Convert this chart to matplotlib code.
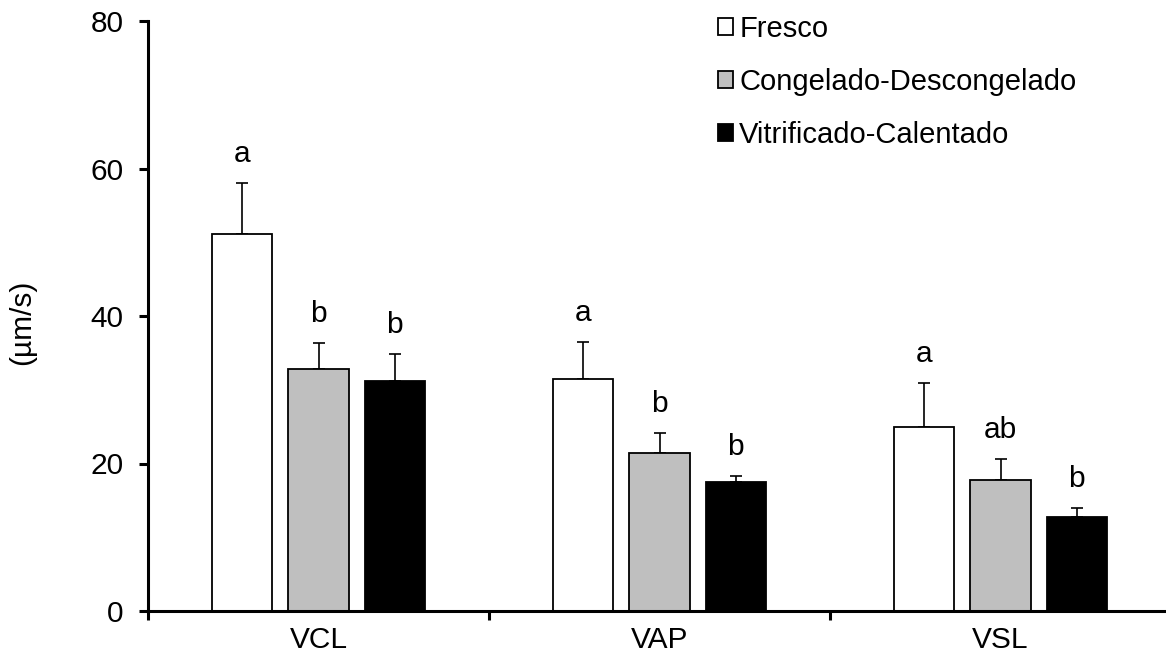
import numpy as np
import matplotlib
matplotlib.use("Agg")
import matplotlib.pyplot as plt

plt.rcParams['font.family'] = ['Liberation Sans', 'DejaVu Sans']

# Data
categories = ['VCL', 'VAP', 'VSL']
series = ['Fresco', 'Congelado-Descongelado', 'Vitrificado-Calentado']
fresco = [51.1, 31.5, 24.9]
fresco_err = [7.0, 5.0, 6.0]
congelado = [32.8, 21.4, 17.7]
congelado_err = [3.5, 2.8, 2.9]
vitrificado = [31.2, 17.5, 12.8]
vitrificado_err = [3.6, 0.8, 1.1]
letters_fresco = ['a', 'a', 'a']
letters_congelado = ['b', 'b', 'ab']
letters_vitrificado = ['b', 'b', 'b']

colors = ['white', '#BFBFBF', 'black']
fs = 21.5

fig = plt.figure(figsize=(11.66, 6.59), dpi=100)
ax = fig.add_axes([148 / 1166, 48 / 659, 1023 / 1166, 590 / 659])

x = np.arange(len(categories))
width = 0.176
step = 0.223

groups = [(fresco, fresco_err, letters_fresco),
          (congelado, congelado_err, letters_congelado),
          (vitrificado, vitrificado_err, letters_vitrificado)]

for i, (vals, errs, letters) in enumerate(groups):
    pos = x + (i - 1) * step
    ax.bar(pos, vals, width, color=colors[i], edgecolor='black',
           linewidth=1.3, label=series[i], zorder=2)
    ax.errorbar(pos, vals, yerr=[np.zeros(len(vals)), errs], fmt='none',
                ecolor='black', elinewidth=1.2, capsize=4, capthick=1.2, zorder=1)
    for p, v, e, t in zip(pos, vals, errs, letters):
        ax.annotate(t, (p, v + e), xytext=(0, 21), textcoords='offset pixels',
                    ha='center', va='baseline', fontsize=fs)

ax.set_xlim(-0.5, 2.5)
ax.set_ylim(0, 80)
ax.set_yticks([0, 20, 40, 60, 80])

# major ticks at category boundaries, labels on minor ticks at centers
ax.set_xticks([-0.5, 0.5, 1.5, 2.5])
ax.set_xticklabels([])
ax.set_xticks(x, minor=True)
ax.set_xticklabels(categories, minor=True)
ax.tick_params(axis='x', which='major', direction='out', length=6.5, width=2.2)
ax.tick_params(axis='x', which='minor', length=0, pad=11, labelsize=fs)
ax.tick_params(axis='y', direction='out', length=6.5, width=2.2, pad=11, labelsize=fs)

for s in ['top', 'right']:
    ax.spines[s].set_visible(False)
for s in ['left', 'bottom']:
    ax.spines[s].set_linewidth(2.2)

fig.text(22 / 1166, 1 - 322 / 659, '(µm/s)', rotation=90, ha='center', va='center', fontsize=fs)

fig.legend(loc='upper left', bbox_to_anchor=(718 / 1166, 1 - 15 / 659),
           frameon=False, fontsize=21, handlelength=0.53, handleheight=0.53,
           handletextpad=0.2, labelspacing=0.85, borderpad=0, borderaxespad=0)

fig.savefig('out.png', dpi=100)
